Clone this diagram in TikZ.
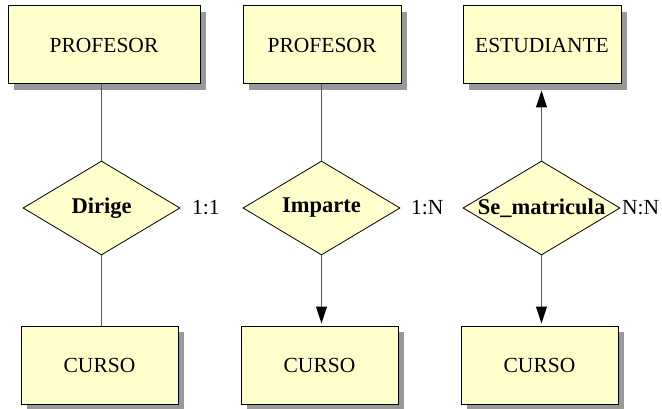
\documentclass[tikz,border=0pt]{standalone}
\usepackage{fontspec}
\setmainfont{Liberation Serif}
\usetikzlibrary{shapes.geometric,shadows,arrows.meta}
\definecolor{erfill}{RGB}{255,255,204}
\definecolor{erline}{RGB}{90,90,90}
\begin{document}
\begin{tikzpicture}[x=1pt, y=1pt]

\tikzstyle{every node} = [font=\fontsize{21.5}{26}\selectfont]
\tikzstyle{entidad} = [rectangle, draw, fill=erfill, line width=1pt, minimum height=78pt,
  drop shadow={shadow xshift=6pt, shadow yshift=-6pt, fill=black!40, opacity=1}]
\tikzstyle{relacion} = [diamond, draw, fill=erfill, line width=0.8pt, inner sep=0pt,
  shape aspect=1.67, minimum width=157pt, minimum height=94pt, font=\fontsize{22.5}{26}\selectfont\bfseries]
\tikzstyle{card} = [anchor=west, inner sep=0pt]
\tikzstyle{con} = [draw=erline, line width=1pt]
\tikzstyle{flecha} = [con, -{Triangle[length=17pt, width=11pt, color=black]}]

\useasboundingbox (0,0) rectangle (662,408);

\node[entidad, minimum width=192pt] (p1) at (104,363) {PROFESOR};
\node[entidad, minimum width=158pt] (p2) at (322,363) {PROFESOR};
\node[entidad, minimum width=158pt] (e3) at (542,363) {ESTUDIANTE};

\node[relacion] (r1) at (101.5,200) {Dirige};
\node[relacion] (r2) at (321.5,200) {Imparte};
\node[relacion] (r3) at (541.5,200) {\makebox[0pt]{Se\_matricula}};

\node[card] (k1) at (192,200) {1:1};
\node[card] (k2) at (411,200) {1:N};
\node[card] (k3) at (622,200) {N:N};

\node[entidad, minimum width=157pt] (c1) at (99.5,43) {CURSO};
\node[entidad, minimum width=157pt] (c2) at (319.5,43) {CURSO};
\node[entidad, minimum width=157pt] (c3) at (539.5,43) {CURSO};

\draw[con] (r1.north) -- (r1.north |- p1.south);
\draw[con] (r2.north) -- (r2.north |- p2.south);
\draw[flecha, shorten >=6pt] (r3.north) -- (r3.north |- e3.south);

\draw[con] (r1.south) -- (r1.south |- c1.north);
\draw[flecha, shorten >=2pt] (r2.south) -- (r2.south |- c2.north);
\draw[flecha, shorten >=2pt] (r3.south) -- (r3.south |- c3.north);
\end{tikzpicture}
\end{document}
